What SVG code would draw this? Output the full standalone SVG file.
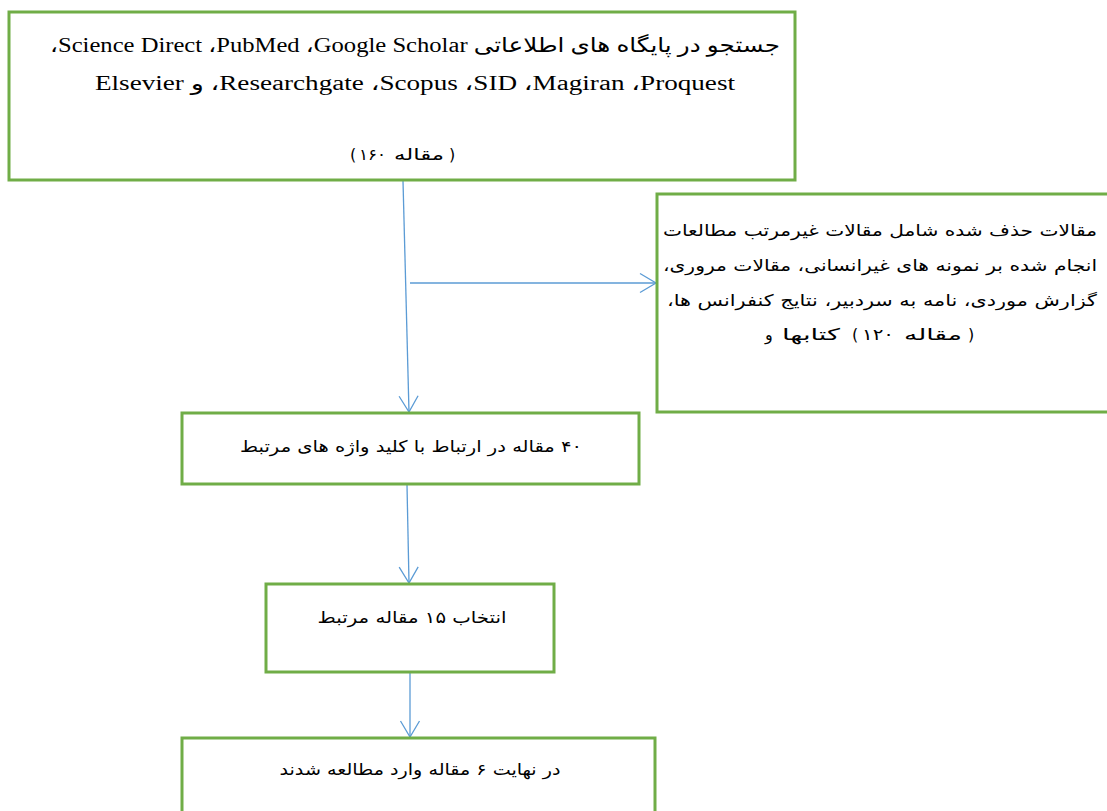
<svg xmlns="http://www.w3.org/2000/svg" width="1107" height="811" viewBox="0 0 1107 811">
<style>
.box{fill:#fff;stroke:#70AD47;stroke-width:3}
.con{fill:none;stroke:#5B9BD5;stroke-width:1.3}
.fa{font-family:"DejaVu Sans","Noto Sans",sans-serif;font-size:16px;fill:#000}
.fl{font-family:"Liberation Serif","DejaVu Sans",serif;font-size:20px;fill:#000}
</style>
<defs>
<marker id="ah" markerUnits="userSpaceOnUse" markerWidth="24" markerHeight="24" viewBox="-20 -12 24 24" refX="0" refY="0" orient="auto">
<path d="M-16,-9.5 L0,0 L-16,9.5" fill="none" stroke="#5B9BD5" stroke-width="1.3"/>
</marker>
</defs>
<rect width="1107" height="811" fill="#fff"/>
<g id="connectors">
<path class="con" d="M403,181 L409,412" marker-end="url(#ah)"/>
<path class="con" d="M410,283 L656,283" marker-end="url(#ah)"/>
<path class="con" d="M407,485 L409,583" marker-end="url(#ah)"/>
<path class="con" d="M410,673 L410,737" marker-end="url(#ah)"/>
</g>
<g id="node-search">
<rect class="box" x="9" y="12" width="786" height="168"/>
<text class="fl" x="415" y="52" text-anchor="middle" direction="rtl" textLength="730" lengthAdjust="spacingAndGlyphs">جستجو در پایگاه های اطلاعاتی Google Scholar،&#x200F; PubMed،&#x200F; Science Direct،</text>
<text class="fl" x="415" y="90" text-anchor="middle" direction="rtl" textLength="640" lengthAdjust="spacingAndGlyphs">Proquest،&#x200F; Magiran،&#x200F; SID،&#x200F; Scopus،&#x200F; Researchgate،&#x200F; و Elsevier</text>
<text class="fa" x="350" y="160">(</text>
<text class="fa" x="359" y="160" textLength="27" lengthAdjust="spacingAndGlyphs">۱۶۰</text>
<text class="fa" x="394" y="160" textLength="50" lengthAdjust="spacingAndGlyphs">مقاله</text>
<text class="fa" x="449" y="160">)</text>
</g>
<g id="node-excluded">
<rect class="box" x="657" y="194" width="470" height="218"/>
<text class="fa" x="880" y="236" text-anchor="middle" direction="rtl" textLength="434" lengthAdjust="spacingAndGlyphs">مقالات حذف شده شامل مقالات غیرمرتب مطالعات</text>
<text class="fa" x="880" y="271" text-anchor="middle" direction="rtl" textLength="434" lengthAdjust="spacingAndGlyphs">انجام شده بر نمونه های غیرانسانی، مقالات مروری،</text>
<text class="fa" x="882" y="306" text-anchor="middle" direction="rtl" textLength="430" lengthAdjust="spacingAndGlyphs">گزارش موردی، نامه به سردبیر، نتایج کنفرانس ها،</text>
<text class="fa" x="765" y="340">و</text>
<text class="fa" x="782" y="340" textLength="58" lengthAdjust="spacingAndGlyphs">کتابها</text>
<text class="fa" x="852" y="340">(</text>
<text class="fa" x="862" y="340" textLength="32" lengthAdjust="spacingAndGlyphs">۱۲۰</text>
<text class="fa" x="904" y="340" textLength="58" lengthAdjust="spacingAndGlyphs">مقاله</text>
<text class="fa" x="968" y="340">)</text>
</g>
<g id="node-40">
<rect class="box" x="182" y="413" width="457" height="71"/>
<text class="fa" x="411" y="452" text-anchor="middle" direction="rtl" textLength="342" lengthAdjust="spacingAndGlyphs">۴۰ مقاله در ارتباط با کلید واژه های مرتبط</text>
</g>
<g id="node-15">
<rect class="box" x="266" y="584" width="288" height="88"/>
<text class="fa" x="412" y="623" text-anchor="middle" direction="rtl" textLength="189" lengthAdjust="spacingAndGlyphs">انتخاب ۱۵ مقاله مرتبط</text>
</g>
<g id="node-6">
<rect class="box" x="182" y="738" width="473" height="100"/>
<text class="fa" x="420" y="775" text-anchor="middle" direction="rtl" textLength="281" lengthAdjust="spacingAndGlyphs">در نهایت ۶ مقاله وارد مطالعه شدند</text>
</g>
</svg>
